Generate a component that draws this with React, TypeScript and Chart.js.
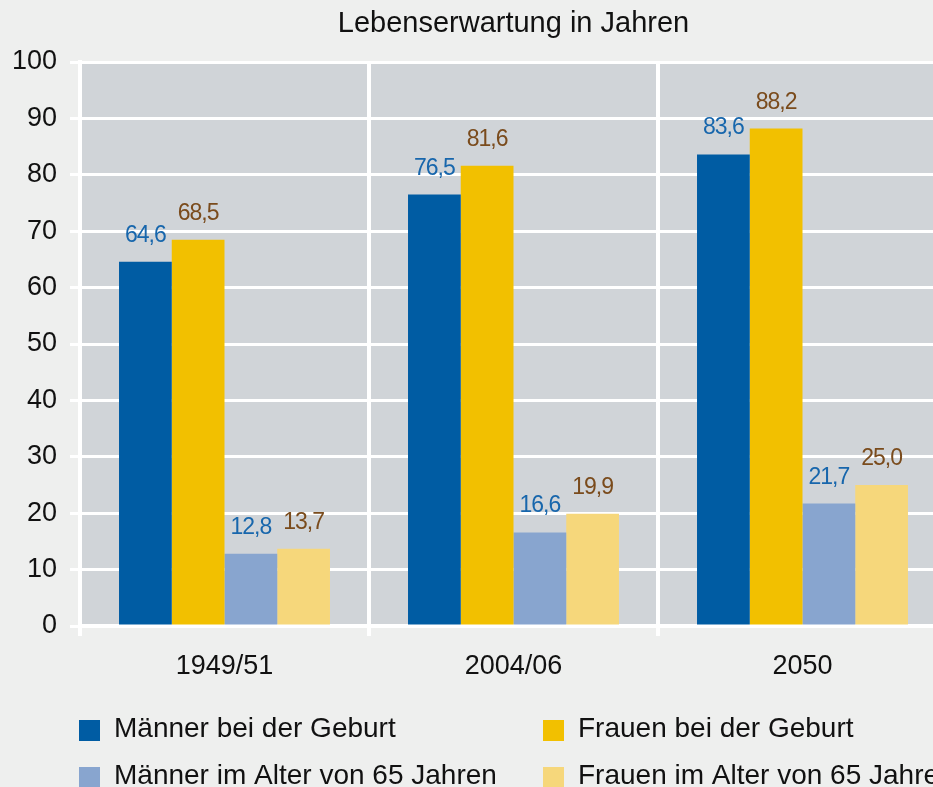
import React, { useEffect, useRef } from 'react';
import { Chart, registerables } from 'chart.js';

Chart.register(...registerables);

const title = 'Lebenserwartung in Jahren';
const categories = ['1949/51', '2004/06', '2050'];
const seriesNames = [
  'Männer bei der Geburt',
  'Frauen bei der Geburt',
  'Männer im Alter von 65 Jahren',
  'Frauen im Alter von 65 Jahren',
];
const maennerGeburt = [64.6, 76.5, 83.6];
const frauenGeburt = [68.5, 81.6, 88.2];
const maenner65 = [12.8, 16.6, 21.7];
const frauen65 = [13.7, 19.9, 25.0];
const yMin = 0;
const yMax = 100;
const yStep = 10;

const barColors = ['#005ca3', '#f2c000', '#88a5cf', '#f6d77b'];
const labelColors = ['#1766ac', '#7a4b1c', '#1766ac', '#7a4b1c'];
const FONT = "'Liberation Sans', Arial, sans-serif";

const fmt = (v: number) => v.toFixed(1).replace('.', ',');

export default function App() {
  const ref = useRef<HTMLCanvasElement>(null);
  useEffect(() => {
    if (!ref.current) return;
    const bgPlugin = {
      id: 'bg',
      beforeDraw(chart: any) {
        const { ctx, chartArea } = chart;
        ctx.save();
        ctx.fillStyle = '#eeefee';
        ctx.fillRect(0, 0, chart.width, chart.height);
        ctx.fillStyle = '#d0d4d8';
        ctx.fillRect(chartArea.left, chartArea.top, chartArea.right - chartArea.left, chartArea.bottom - chartArea.top);
        ctx.restore();
      },
    };
    const labelPlugin = {
      id: 'vals',
      afterDatasetsDraw(chart: any) {
        const { ctx } = chart;
        ctx.save();
        ctx.font = `23px ${FONT}`;
        ctx.textAlign = 'center';
        ctx.textBaseline = 'alphabetic';
        try { (ctx as any).letterSpacing = '-1px'; } catch (e) {}
        chart.data.datasets.forEach((ds: any, i: number) => {
          const meta = chart.getDatasetMeta(i);
          ctx.fillStyle = labelColors[i];
          meta.data.forEach((el: any, j: number) => {
            ctx.fillText(fmt(ds.data[j]), el.x, el.y - 20);
          });
        });
        ctx.restore();
      },
    };
    const decoPlugin = {
      id: 'deco',
      afterDraw(chart: any) {
        const { ctx, chartArea } = chart;
        ctx.save();
        ctx.fillStyle = '#111111';
        ctx.font = `29px ${FONT}`;
        ctx.textAlign = 'center';
        ctx.textBaseline = 'alphabetic';
        ctx.fillText(title, (chartArea.left + chartArea.right) / 2, 32);
        // legend
        const cols = [79, 543];
        const rows = [720, 767];
        ctx.font = `28px ${FONT}`;
        ctx.textAlign = 'left';
        chart.data.datasets.forEach((ds: any, i: number) => {
          const x = cols[i % 2];
          const y = rows[Math.floor(i / 2)];
          ctx.fillStyle = ds.backgroundColor;
          ctx.fillRect(x, y, 21, 21);
          ctx.fillStyle = '#111111';
          ctx.fillText(ds.label, x + 35, y + 17);
        });
        ctx.restore();
      },
    };
    const chart = new Chart(ref.current, {
      type: 'bar',
      data: {
        labels: categories,
        datasets: [maennerGeburt, frauenGeburt, maenner65, frauen65].map((d, i) => ({
          label: seriesNames[i],
          data: d,
          backgroundColor: barColors[i],
          borderWidth: 0,
          categoryPercentage: 0.73,
          barPercentage: 1,
        })),
      },
      options: {
        responsive: false,
        animation: false,
        devicePixelRatio: 1,
        layout: { padding: { top: 62, right: 13, left: 0, bottom: 0 } },
        plugins: {
          legend: { display: false },
          title: { display: false },
          tooltip: { enabled: false },
        },
        scales: {
          x: {
            offset: true,
            grid: { color: '#ffffff', lineWidth: 4, offset: true, drawTicks: true, tickLength: 10 },
            border: { color: '#ffffff', width: 4 },
            ticks: { color: '#111111', font: { family: FONT, size: 27 }, padding: 14, maxRotation: 0 },
            afterFit(scale: any) { scale.height = 161; },
          },
          y: {
            min: yMin,
            max: yMax,
            grid: { color: '#ffffff', lineWidth: 3, drawTicks: true, tickLength: 10 },
            border: { color: '#ffffff', width: 4 },
            ticks: { stepSize: yStep, color: '#111111', font: { family: FONT, size: 27 }, padding: 13 },
            afterFit(scale: any) { scale.width = 80; },
          },
        },
      },
      plugins: [bgPlugin, labelPlugin, decoPlugin],
    });
    return () => chart.destroy();
  }, []);
  return (
    <div style={{ position: 'fixed', left: 0, top: 0, width: 933, height: 787, overflow: 'hidden', background: '#eeefee' }}>
      <canvas ref={ref} width={960} height={787} style={{ display: 'block' }} />
    </div>
  );
}
